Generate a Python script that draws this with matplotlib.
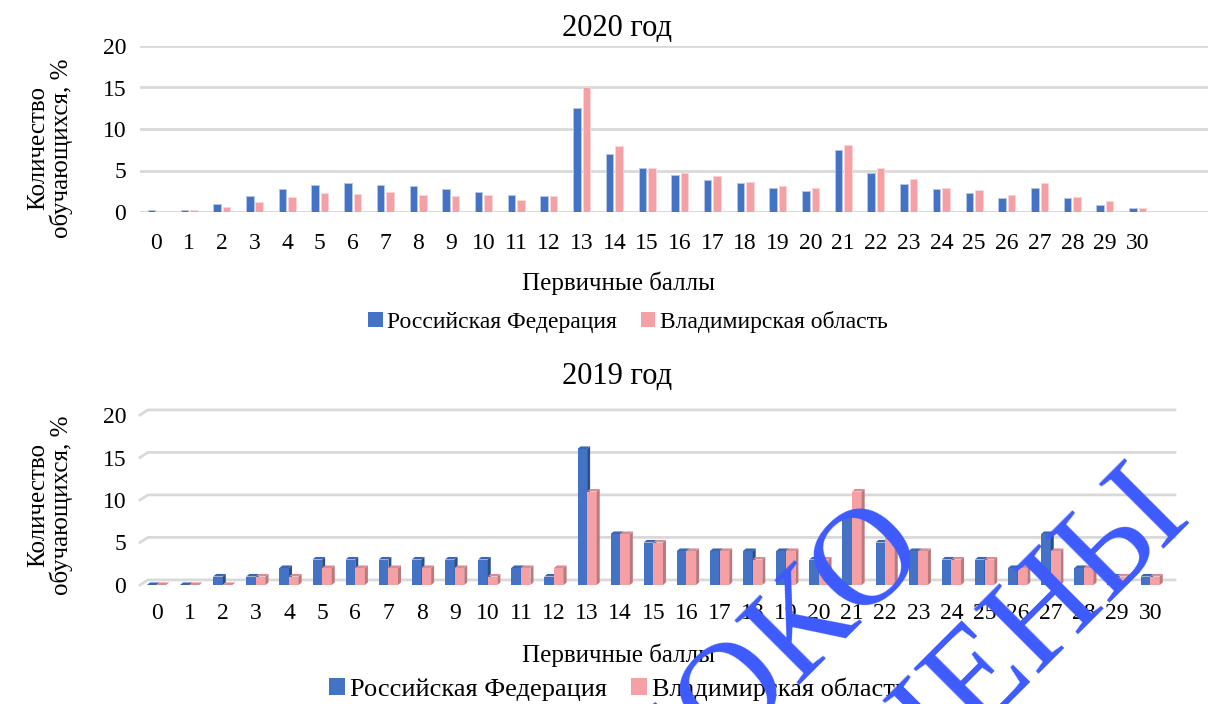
import numpy as np
import matplotlib
matplotlib.use("Agg")
import matplotlib.pyplot as plt
from matplotlib.patches import Patch, Polygon

plt.rcParams['font.family'] = ['Liberation Serif', 'DejaVu Serif']

# data
scores = list(range(31))

rf_2020 = [0.2, 0.3, 1.0, 1.9, 2.8, 3.3, 3.45, 3.3, 3.1, 2.8,
           2.45, 2.05, 1.97, 12.5, 6.95, 5.25, 4.45, 3.85, 3.55, 2.95,
           2.55, 7.5, 4.65, 3.35, 2.75, 2.25, 1.65, 2.95, 1.65, 0.85, 0.45]
vlad_2020 = [0.05, 0.2, 0.55, 1.15, 1.8, 2.3, 2.15, 2.35, 2.0, 1.9,
             2.05, 1.45, 1.97, 15.1, 8.0, 5.35, 4.65, 4.3, 3.65, 3.1,
             2.85, 8.1, 5.35, 4.0, 2.95, 2.65, 2.05, 3.55, 1.75, 1.35, 0.45]

rf_2019 = [0, 0, 1, 1, 2, 3, 3, 3, 3, 3,
           3, 2, 1, 16, 6, 5, 4, 4, 4, 4,
           3, 8, 5, 4, 3, 3, 2, 6, 2, 1, 1]
vlad_2019 = [0, 0, 0, 1, 1, 2, 2, 2, 2, 2,
             1, 2, 2, 11, 6, 5, 4, 4, 3, 4,
             3, 11, 6, 4, 3, 3, 2, 4, 2, 1, 1]

yticks = [0, 5, 10, 15, 20]
series_names = ["Российская Федерация", "Владимирская область"]
titles = ["2020 год", "2019 год"]
xlabel = "Первичные баллы"
ylabel = "Количество\nобучающихся, %"

BLUE = "#4472C4"
PINK = "#F4A0A5"
GRID = "#D9D9D9"
MARK = "#3D5AFE"

W, H = 1208, 704
fig = plt.figure(figsize=(W / 100, H / 100), dpi=100)


def px_rect(x0, y_top, x1, y_bot):
    return [x0 / W, 1 - y_bot / H, (x1 - x0) / W, (y_bot - y_top) / H]


def fx(x):
    return x / W


def fy(y):
    return 1 - y / H


# ---- 2020: flat bars
ax1 = fig.add_axes(px_rect(140, 46, 1208, 212))
x = np.array(scores)
bw = 0.23
ax1.bar(x - 0.145, rf_2020, bw, color=BLUE, edgecolor="#B4C7E7", linewidth=0.7, zorder=3)
ax1.bar(x + 0.145, vlad_2020, bw, color=PINK, edgecolor="#FBD5D7", linewidth=0.7, zorder=3)
ax1.set_xlim(-0.5, 32.15)
ax1.set_ylim(0, 20)
ax1.set_yticks(yticks)
ax1.set_xticks(scores)
ax1.grid(axis="y", color=GRID, linewidth=2, zorder=0)
ax1.set_axisbelow(True)
for s in ax1.spines.values():
    s.set_visible(False)
ax1.tick_params(length=0, labelsize=17)
ax1.tick_params(axis="x", pad=15)
ax1.tick_params(axis="y", pad=10)
ax1.axhline(0, color=GRID, linewidth=2, zorder=2)

# ---- 2019: bars with depth
ax2 = fig.add_axes(px_rect(140, 406.5, 1175, 585))
ax2.set_xlim(-0.5, 30.75)
ax2.set_ylim(0, 21)
x_right = 30.75
gdx, gdy = 0.24, 0.6  # back wall offset
for v in yticks:
    ax2.plot([-0.5, -0.5 + gdx, x_right], [v, v + gdy, v + gdy],
             color=GRID, linewidth=2, zorder=1, clip_on=False)

ddx, ddy = 0.09, 0.3
bw2 = 0.29


def bar3d(ax, x0, h, front, top, side):
    ax.add_patch(Polygon([(x0, 0), (x0 + bw2, 0), (x0 + bw2, h), (x0, h)],
                         closed=True, facecolor=front, edgecolor="none", zorder=3))
    ax.add_patch(Polygon([(x0 + bw2, 0), (x0 + bw2 + ddx, ddy),
                          (x0 + bw2 + ddx, h + ddy), (x0 + bw2, h)],
                         closed=True, facecolor=side, edgecolor="none", zorder=3))
    ax.add_patch(Polygon([(x0, h), (x0 + ddx, h + ddy),
                          (x0 + bw2 + ddx, h + ddy), (x0 + bw2, h)],
                         closed=True, facecolor=top, edgecolor="none", zorder=3))


for i, s in enumerate(scores):
    bar3d(ax2, s - bw2, rf_2019[i], BLUE, "#3A66B5", "#2B4E8C")
    bar3d(ax2, s, vlad_2019[i], PINK, "#D98C91", "#B9797D")

ax2.set_yticks(yticks)
ax2.set_xticks(scores)
for s in ax2.spines.values():
    s.set_visible(False)
ax2.tick_params(length=0, labelsize=17)
ax2.tick_params(axis="x", pad=13)
ax2.tick_params(axis="y", pad=10)

# ---- titles, axis labels, legends
fig.text(fx(617), fy(28), titles[0], ha="center", va="center", fontsize=22)
fig.text(fx(617), fy(376), titles[1], ha="center", va="center", fontsize=22)

for yc in (148, 505):
    fig.text(fx(50), fy(yc), ylabel, rotation=90, ha="center", va="center",
             fontsize=18, linespacing=1.0)

fig.text(fx(618), fy(283), xlabel, ha="center", va="center", fontsize=18)
fig.text(fx(618), fy(655), xlabel, ha="center", va="center", fontsize=18)

handles = [Patch(facecolor=BLUE), Patch(facecolor=PINK)]
fig.legend(handles, series_names, loc="center", bbox_to_anchor=(fx(628), fy(322)),
           ncol=2, frameon=False, fontsize=17, handlelength=0.6, handleheight=0.6,
           handletextpad=0.2, columnspacing=1.0)
fig.legend(handles, series_names, loc="center", bbox_to_anchor=(fx(618), fy(689)),
           ncol=2, frameon=False, fontsize=19, handlelength=0.6, handleheight=0.6,
           handletextpad=0.2, columnspacing=0.9)

# ---- watermark across the lower chart
fig.text(fx(906), fy(527), "ВЫСОКО", rotation=45, rotation_mode="anchor",
         ha="right", va="center", fontsize=100, color=MARK, zorder=10)
fig.text(fx(1168), fy(492), "ОЦЕНЕНЫ", rotation=45, rotation_mode="anchor",
         ha="right", va="center", fontsize=100, color=MARK, zorder=10)

fig.savefig("out.png", dpi=100)
